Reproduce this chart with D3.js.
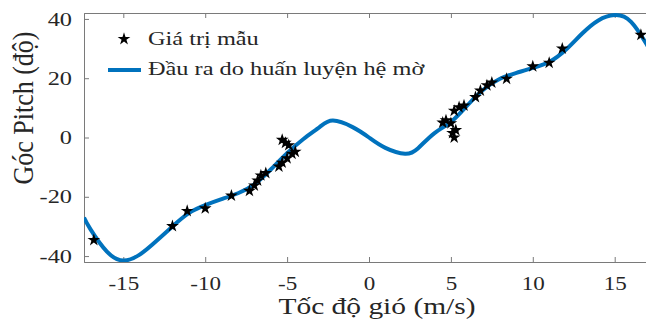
<!DOCTYPE html>
<html lang="vi">
<head>
<meta charset="UTF-8">
<title>Góc Pitch</title>
<style>
  body { margin: 0; background: #fff; }
  svg text { font-family: "Liberation Serif", "Times New Roman", serif; fill: #262626; }
  .axis path, .axis line { stroke: #7a7a7a; }
</style>
</head>
<body>
<svg id="chart" width="646" height="322"></svg>
<script src="https://cdn.jsdelivr.net/npm/d3@7"></script>
<script>
// fitted output of the fuzzy system
var fitX = [-17.4, -17, -16, -15, -14, -13, -12, -11, -10, -9, -8, -7, -6, -5, -4, -3, -2.2, -1,
            0, 1, 2.2, 3, 4, 5, 6, 7, 8, 9, 10, 11, 12, 13, 14, 15, 16, 17, 17.4];
var fitY = [-27, -31, -38.5, -41.5, -39.5, -35, -30, -25.5, -22.8, -20.8, -18.8, -15.8, -10.8, -5.3, -0.5, 3.6, 5.7, 3.5,
            0, -3.5, -5.5, -3.6, 1.5, 5.2, 10.8, 16.2, 19.8, 21.8, 23.5, 25.5, 29.5, 35, 39.5, 41.3, 39, 31, 27.5];

// sample points
var sampleX = [-16.8, -12.0, -11.1, -10.0, -8.4, -7.3, -7.0, -6.8, -6.6, -6.3, -5.5, -5.3, -5.0, -4.7, -4.5, -5.3, -5.1, -4.9,
               4.5, 4.7, 5.0, 5.1, 5.2, 5.3, 5.2, 5.5, 5.8, 6.5, 6.8, 7.2, 7.5, 8.4, 10.0, 11.0, 11.8, 16.6];
var sampleY = [-34.6, -29.9, -24.8, -23.9, -19.6, -18.0, -16.2, -14.5, -12.8, -12.0, -9.8, -8.5, -7.0, -5.5, -4.8, -0.8, -1.8, -2.6,
               5.0, 5.8, 4.8, 1.5, 0.0, 2.5, 9.0, 10.2, 10.8, 13.6, 15.8, 17.6, 18.5, 19.8, 24.0, 25.2, 30.0, 34.6];

var xTicks = [-15, -10, -5, 0, 5, 10, 15];
var yTicks = [-40, -20, 0, 20, 40];
var legendLabels = ["Giá trị mẫu", "Đầu ra do huấn luyện hệ mờ"];

var svg = d3.select("#chart");
var pl = 84, pr = 654, pt = 13, pb = 262;
var stretch = 1.28; // the picture's text is wider than it is tall
var serif = '"Liberation Serif", "Times New Roman", serif';

var x = d3.scaleLinear().domain([-17.4, 17.4]).range([pl, pr]);
var y = d3.scaleLinear().domain([-42, 42]).range([pb, pt]);

svg.append("defs").append("clipPath").attr("id", "clip")
  .append("rect").attr("x", pl).attr("y", pt).attr("width", pr - pl).attr("height", pb - pt);

function fmt(d) { return String(d); }

// axes (inward ticks, box style)
svg.append("g").attr("class", "axis xb")
  .attr("transform", "translate(0," + pb + ")")
  .call(d3.axisBottom(x).tickValues(xTicks).tickSize(-5).tickPadding(15).tickFormat(fmt))
  .call(function(g) { g.selectAll("text").style("font-size", "18px").attr("dy", "0.71em"); });

svg.append("g").attr("class", "axis")
  .attr("transform", "translate(0," + pt + ")")
  .call(d3.axisTop(x).tickValues(xTicks).tickSize(-5).tickFormat(""));

svg.append("g").attr("class", "axis yl")
  .attr("transform", "translate(" + pl + ",0)")
  .call(d3.axisLeft(y).tickValues(yTicks).tickSize(-5).tickPadding(12).tickFormat(fmt))
  .call(function(g) { g.selectAll("text").style("font-size", "19px"); });

svg.append("g").attr("class", "axis")
  .attr("transform", "translate(" + pr + ",0)")
  .call(d3.axisRight(y).tickValues(yTicks).tickSize(-5).tickFormat(""));

svg.selectAll(".axis").attr("font-family", serif);

// fitted curve
var fit = fitX.map(function(d, i) { return [d, fitY[i]]; });
var line = d3.line().x(function(d) { return x(d[0]); }).y(function(d) { return y(d[1]); }).curve(d3.curveNatural);

svg.append("path")
  .datum(fit)
  .attr("clip-path", "url(#clip)")
  .attr("d", line)
  .attr("fill", "none")
  .attr("stroke", "#0072BD")
  .attr("stroke-width", 4);

// sample stars
var star = d3.symbol().type(d3.symbolStar).size(50);
svg.selectAll(".pt")
  .data(sampleX.map(function(d, i) { return [d, sampleY[i]]; }))
  .enter().append("path")
  .attr("class", "pt")
  .attr("d", star)
  .attr("transform", function(d) { return "translate(" + x(d[0]) + "," + y(d[1]) + ")"; })
  .attr("fill", "#000");

// legend
var lg = svg.append("g");
lg.append("path").attr("d", star).attr("transform", "translate(124,39)").attr("fill", "#000");
lg.append("line").attr("x1", 108).attr("x2", 141).attr("y1", 70).attr("y2", 70)
  .attr("stroke", "#0072BD").attr("stroke-width", 4);
lg.selectAll("text.lab")
  .data(legendLabels)
  .enter().append("text")
  .attr("class", "lab")
  .attr("x", 148)
  .attr("y", function(d, i) { return 45 + i * 30; })
  .style("font-family", serif)
  .style("font-size", "19px")
  .text(function(d) { return d; });

// axis titles
svg.append("text")
  .attr("class", "xt")
  .attr("x", 377)
  .attr("y", 314)
  .attr("text-anchor", "middle")
  .style("font-family", serif)
  .style("font-size", "23px")
  .text("Tốc độ gió (m/s)");

svg.append("text")
  .attr("class", "yt")
  .attr("transform", "translate(33,108) scale(1.25,1) rotate(-90)")
  .attr("text-anchor", "middle")
  .attr("textLength", 153)
  .attr("lengthAdjust", "spacingAndGlyphs")
  .style("font-family", serif)
  .style("font-size", "23px")
  .text("Góc Pitch (độ)");

// widen the horizontal texts the same way the picture does
svg.selectAll(".xb text, .yl text, text.lab, text.xt").each(function() {
  var w = this.getComputedTextLength();
  d3.select(this).attr("textLength", w * stretch).attr("lengthAdjust", "spacingAndGlyphs");
});
</script>
</body>
</html>
